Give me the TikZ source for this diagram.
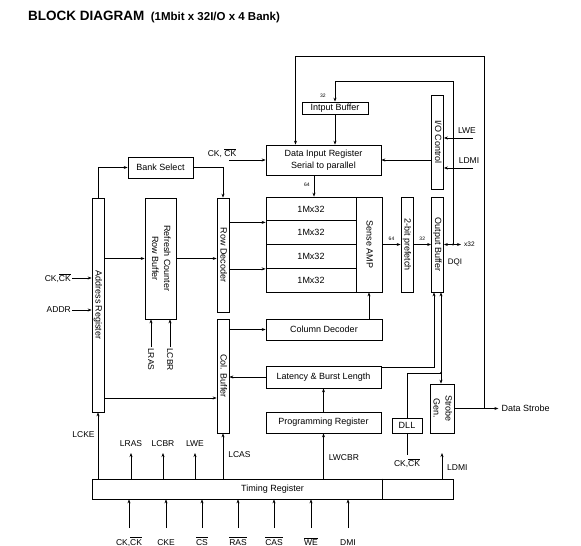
\documentclass[tikz,border=0pt]{standalone}
\usepackage{fontspec}
\setmainfont{Liberation Sans}
\usetikzlibrary{positioning, arrows.meta, calc}

\newcommand{\vtext}[1]{\rotatebox{-90}{\begin{tabular}{@{}c@{}}#1\end{tabular}}}
\newcommand{\ovl}[1]{$\overline{\mbox{#1}}$}

\begin{document}
\begin{tikzpicture}[
        x=1pt, y=-1pt,
        box/.style 2 args={draw, line width=0.7pt, inner sep=0pt,
            minimum width=#1, minimum height=#2, align=center,
            font=\fontsize{9}{12}\selectfont},
        lbl/.style={inner sep=1pt, font=\fontsize{8.5}{10}\selectfont},
        num/.style={inner sep=1pt, font=\fontsize{5}{6}\selectfont},
        arr/.style={-{Stealth[length=4pt, width=3pt]}, line width=0.7pt},
        darr/.style={{Stealth[length=4pt, width=3pt]}-{Stealth[length=4pt, width=3pt]}, line width=0.7pt},
        wire/.style={line width=0.7pt},
    ]
    \useasboundingbox (0,0) rectangle (581,546);

    % =============================================
    % TITLE
    % =============================================
    \node[anchor=base west, inner sep=0pt, font=\bfseries\fontsize{13.5}{16}\selectfont]
        (title) at (28,20) {BLOCK DIAGRAM};
    \node[anchor=base west, inner sep=0pt, font=\bfseries\fontsize{11.5}{13}\selectfont]
        (subtitle) at ([xshift=6pt]title.base east) {(1Mbit x 32I/O x 4 Bank)};

    % =============================================
    % DATA INPUT PATH
    % =============================================
    \node[box={66}{12}]  (inbuf)  at (335,108)   {Intput Buffer};
    \node[box={115}{30}] (dinreg) at (323.5,160) {Data Input Register\\Serial to parallel};
    \node[box={12}{94}]  (ioctrl) at (437.5,142) {\vtext{I/O Control}};

    \coordinate (ckdin)  at (229,160);
    \coordinate (lwein)  at (473,138);
    \coordinate (ldmiin) at (473,168);

    \draw[arr] (ckdin) -- (dinreg.west);
    \node[lbl, anchor=south, xshift=-7pt, yshift=1pt] at (ckdin) {CK, \ovl{CK}};
    \draw[arr] (inbuf) -- (inbuf |- dinreg.north);
    \draw[arr] (ioctrl.west |- dinreg.east) -- (dinreg.east);
    \draw[arr] (lwein) -- (lwein -| ioctrl.east);
    \node[lbl, anchor=south, xshift=-6pt, yshift=3pt] at (lwein) {LWE};
    \draw[arr] (ldmiin) -- (ldmiin -| ioctrl.east);
    \node[lbl, anchor=south, xshift=-4pt, yshift=3pt] at (ldmiin) {LDMI};

    % =============================================
    % ADDRESS / ROW / COLUMN
    % =============================================
    \node[box={65}{21}]  (banksel) at (160.5,167.5) {Bank Select};
    \node[box={12}{214}] (addrreg) at (98,305)      {\vtext{Address Register}};
    \node[box={31}{121}] (refresh) at (160.5,258.5) {\vtext{Refresh Counter\\Row Buffer}};
    \node[box={12}{114}] (rowdec)  at (223,255)     {\vtext{Row Decoder}};
    \node[box={12}{114}] (colbuf)  at (223,376)     {\vtext{Col. Buffer}};

    \coordinate (ckaddr) at (72,278);
    \coordinate (addrin) at (72,310);
    \draw[arr] (ckaddr) -- (ckaddr -| addrreg.west);
    \node[lbl, anchor=east] at (ckaddr) {CK,\ovl{CK}};
    \draw[arr] (addrin) -- (addrin -| addrreg.west);
    \node[lbl, anchor=east] at (addrin) {ADDR};

    \draw[arr] (addrreg.north) |- (banksel.west);
    \draw[arr] (banksel.east) -| (rowdec.north);
    \draw[arr] (addrreg.east |- refresh.west) -- (refresh.west);
    \draw[arr] (refresh.east) -- (refresh.east -| rowdec.west);

    \coordinate (colin) at ([yshift=-22pt]colbuf.west);
    \draw[arr] (addrreg.east |- colin) -- (colin);

    \node[lbl, anchor=north] (rlras) at (151,347) {\rotatebox{-90}{LRAS}};
    \node[lbl, anchor=north] (rlcbr) at (170,347) {\rotatebox{-90}{LCBR}};
    \draw[arr] (rlras.north) -- (rlras.north |- refresh.south);
    \draw[arr] (rlcbr.north) -- (rlcbr.north |- refresh.south);

    % =============================================
    % MEMORY ARRAY
    % =============================================
    \node[box={90}{23.75}] (cell0) at (311,208.9) {1Mx32};
    \node[box={90}{23.75}] (cell1) at (311,232.6) {1Mx32};
    \node[box={90}{23.75}] (cell2) at (311,256.4) {1Mx32};
    \node[box={90}{23.75}] (cell3) at (311,280.1) {1Mx32};
    \node[box={26}{95}] (senseamp) at (369,244.5)   {\vtext{Sense AMP}};
    \node[box={12}{95}] (prefetch) at (407,244.5)   {\vtext{2-bit prefetch}};
    \node[box={12}{95}] (outbuf)   at (437.5,244.5) {\vtext{Output Buffer}};

    \coordinate (rowin1) at ([yshift=-2pt]cell1.north west);
    \coordinate (rowin3) at ([yshift=-1pt]cell3.north west);
    \draw[arr] (rowdec.east |- rowin1) -- (rowin1);
    \draw[arr] (rowdec.east |- rowin3) -- (rowin3);

    \coordinate (din64) at ([xshift=-9.5pt]dinreg.south);
    \draw[arr] (din64) -- (din64 |- cell0.north) node[num, pos=0.45, left=3pt] {64};
    \draw[arr] (senseamp.east) -- (prefetch.west) node[num, midway, above=3pt] {64};
    \draw[arr] (prefetch.east) -- (outbuf.west) node[num, midway, above=3pt] {32};

    \coordinate (dqj)   at (453,244.5);
    \coordinate (dqout) at (461,244.5);
    \draw[darr] (outbuf.east) -- (dqout);
    \fill (dqj) circle (1.1);
    \node[num, anchor=west, font=\fontsize{6.5}{7}\selectfont] at ([xshift=2pt]dqout) {x32};
    \node[lbl, font=\fontsize{8}{9}\selectfont] at (455,262) {DQI};

    % feedback loops
    \coordinate (inloop) at (453,81);
    \draw[arr] (dqj) -- (inloop) -| (inbuf.north) node[num, pos=0.85, left=8pt] {32};

    % =============================================
    % COLUMN / CONTROL
    % =============================================
    \node[box={116}{21}] (coldec)  at (324,329.5)   {Column Decoder};
    \node[box={115}{22}] (latency) at (323.5,377)   {Latency \& Burst Length};
    \node[box={115}{21}] (progreg) at (323.5,422.5) {Programming Register};
    \node[box={30}{15}]  (dll)     at (407,425.5)   {DLL};
    \node[box={22}{49}]  (strobe)  at (442,408.5)   {\vtext{Strobe\\Gen.}};

    \draw[arr] (senseamp.south |- coldec.north) -- (senseamp.south);
    \draw[arr] (colbuf.east |- coldec.west) -- (coldec.west);
    \draw[arr] (latency.west) -- (latency.west -| colbuf.east);
    \draw[arr] (progreg.north) -- (latency.south);

    \coordinate (latout) at ([yshift=10pt]latency.east);
    \draw[arr] (latout) -| ([xshift=-3.5pt]outbuf.south);

    \coordinate (dllj) at (441,373);
    \draw[wire] (dll.north) |- (dllj);
    \draw[arr] (dllj) -- (dllj |- outbuf.south);
    \draw[arr] (dllj) -- (dllj |- strobe.north);
    \fill (dllj) circle (1.1);

    \node[lbl] (dllck) at (407,463) {CK,\ovl{CK}};
    \draw[wire] (dll.south) -- ([yshift=2pt]dllck.north);

    \coordinate (dsj)   at ([xshift=30pt]strobe.east);
    \coordinate (dsout) at ([xshift=44pt]strobe.east);
    \draw[arr] (strobe.east) -- (dsout);
    \node[lbl, anchor=west, font=\fontsize{9}{10}\selectfont] at ([xshift=2pt]dsout) {Data Strobe};

    \coordinate (toploop) at (dsj |- 0,56);
    \draw[arr] (dsj) -- (toploop) -| ([xshift=-28pt]dinreg.north);

    % =============================================
    % TIMING REGISTER
    % =============================================
    \node[box={361}{20}] (timing) at (272.5,489) {Timing Register};
    \draw[wire] (timing.north -| coldec.east) -- (timing.south -| coldec.east);

    \draw[arr] (timing.north -| addrreg.south) -- (addrreg.south)
        node[lbl, pos=0.67, left=2pt] {LCKE};
    \draw[arr] (timing.north -| colbuf.south) -- (colbuf.south)
        node[lbl, pos=0.54, right=4pt] {LCAS};
    \draw[arr] (timing.north -| progreg.south) -- (progreg.south)
        node[lbl, pos=0.46, right=4pt] {LWCBR};

    \coordinate (lrasup) at (131,453);
    \coordinate (lcbrup) at (163,453);
    \coordinate (lweup)  at (195,453);
    \coordinate (ldmiup) at (442,453);
    \draw[arr] (timing.north -| lrasup) -- (lrasup) node[lbl, above=5pt] {LRAS};
    \draw[arr] (timing.north -| lcbrup) -- (lcbrup) node[lbl, above=5pt] {LCBR};
    \draw[arr] (timing.north -| lweup)  -- (lweup)  node[lbl, above=5pt] {LWE};
    \draw[arr] (timing.north -| ldmiup) -- (ldmiup);
    \node[lbl, anchor=west] at (446,468) {LDMI};

    % inputs
    \node[lbl, anchor=base] (inck)  at (129,545) {CK,\ovl{CK}};
    \node[lbl, anchor=base] (incke) at (166,545) {CKE};
    \node[lbl, anchor=base] (incs)  at (202,545) {\ovl{CS}};
    \node[lbl, anchor=base] (inras) at (238,545) {\ovl{RAS}};
    \node[lbl, anchor=base] (incas) at (274,545) {\ovl{CAS}};
    \node[lbl, anchor=base] (inwe)  at (311,545) {\ovl{WE}};
    \node[lbl, anchor=base] (indmi) at (348,545) {DMI};

    \draw[arr] ([yshift=17pt]inck.base)  -- (inck |- timing.south);
    \draw[arr] ([yshift=17pt]incke.base) -- (incke |- timing.south);
    \draw[arr] ([yshift=17pt]incs.base)  -- (incs |- timing.south);
    \draw[arr] ([yshift=17pt]inras.base) -- (inras |- timing.south);
    \draw[arr] ([yshift=17pt]incas.base) -- (incas |- timing.south);
    \draw[arr] ([yshift=17pt]inwe.base)  -- (inwe |- timing.south);
    \draw[arr] ([yshift=17pt]indmi.base) -- (indmi |- timing.south);

\end{tikzpicture}
\end{document}
